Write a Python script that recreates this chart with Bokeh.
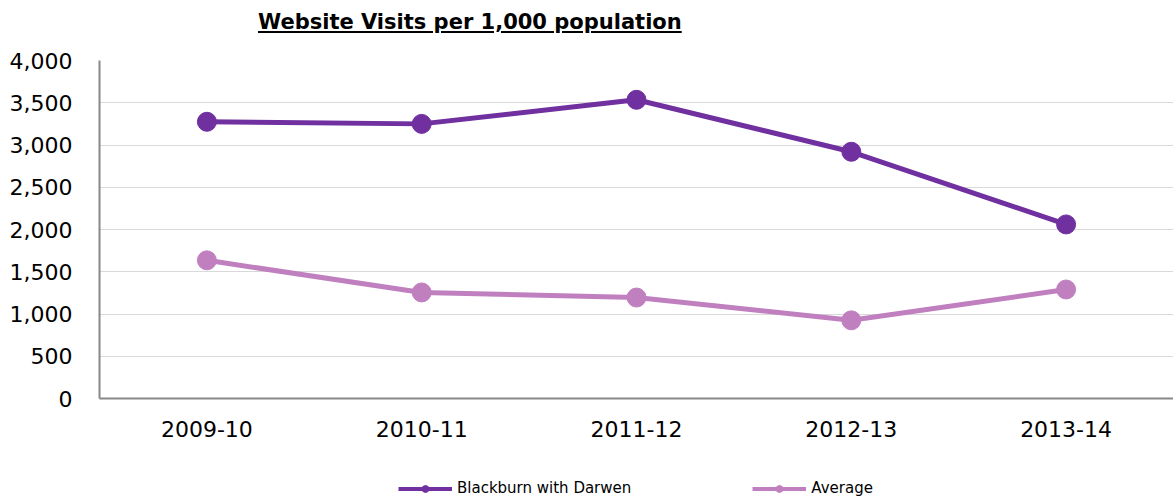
from bokeh.plotting import figure
from bokeh.models import (Div, Legend, LegendItem, NumeralTickFormatter, FixedTicker, Range1d,
                          ColumnDataSource)
from bokeh.layouts import column
from bokeh.embed import file_html
from bokeh.resources import INLINE

title_text = "Website Visits per 1,000 population"
years = ["2009-10", "2010-11", "2011-12", "2012-13", "2013-14"]
blackburn = [3275, 3250, 3535, 2920, 2060]
average = [1635, 1255, 1195, 925, 1290]
y_ticks = [0, 500, 1000, 1500, 2000, 2500, 3000, 3500, 4000]
series_names = ["Blackburn with Darwen", "Average"]

C_BWD = "#7030A0"
C_AVG = "#C080C0"
FONT = "DejaVu Sans"

div = Div(
    text=f"<b><u>{title_text}</u></b>",
    width=1173, height=38, margin=0,
    styles={"font-family": FONT, "font-size": "21px", "padding-left": "258px",
            "padding-top": "10px", "color": "#000000", "line-height": "24px"},
)

p = figure(
    x_range=years, y_range=Range1d(0, 4000),
    width=1173, height=410,
    output_backend="svg", toolbar_location=None,
    min_border_top=22, min_border_left=99, min_border_right=0, min_border_bottom=50,
)
p.outline_line_color = None
p.xgrid.grid_line_color = None
p.ygrid.grid_line_color = "#d9d9d9"
p.ygrid.grid_line_width = 1
p.yaxis.ticker = FixedTicker(ticks=y_ticks)
p.yaxis.formatter = NumeralTickFormatter(format="0,0")

for ax in (p.xaxis[0], p.yaxis[0]):
    ax.axis_line_color = "#888888"
    ax.axis_line_width = 2
    ax.major_tick_line_color = None
    ax.minor_tick_line_color = None
    ax.major_label_text_font = FONT
    ax.major_label_text_color = "#000000"
    ax.major_label_text_font_size = "22px"
p.yaxis.major_label_standoff = 21
p.xaxis.major_label_standoff = 16

src_b = ColumnDataSource(dict(x=years, y=blackburn))
src_a = ColumnDataSource(dict(x=years, y=average))
p.line("x", "y", source=src_b, line_width=5, line_color=C_BWD)
p.scatter("x", "y", source=src_b, size=19, fill_color=C_BWD, line_color=C_BWD)
p.line("x", "y", source=src_a, line_width=5, line_color=C_AVG)
p.scatter("x", "y", source=src_a, size=19, fill_color=C_AVG, line_color=C_AVG)

# separate strip for the legend (its frame is aligned with the main frame, starting at x=99)
lf = figure(
    width=1173, height=51, x_range=Range1d(0, 1), y_range=Range1d(0, 1),
    x_axis_type=None, y_axis_type=None,
    output_backend="svg", toolbar_location=None,
    min_border=0, min_border_left=0, min_border_right=0, min_border_top=0, min_border_bottom=0,
)
lf.outline_line_color = None
lf.grid.visible = False

# legend-only glyphs, placed outside the visible range of the strip
off = ColumnDataSource(dict(x=[-10, -9], y=[-10, -9]))
items = []
for name, col in zip(series_names, [C_BWD, C_AVG]):
    l = lf.line("x", "y", source=off, line_width=4, line_color=col)
    s = lf.scatter("x", "y", source=off, size=13, fill_color=col, line_color=col)
    items.append(LegendItem(label=name, renderers=[l, s]))

legend = Legend(
    items=items, orientation="horizontal", location=(299, 2),
    glyph_width=54, glyph_height=17, label_standoff=5, spacing=121,
    padding=0, margin=0, border_line_color=None, background_fill_alpha=0,
    label_text_font=FONT, label_text_font_size="15px", label_text_color="#000000",
)
lf.add_layout(legend, "center")

layout = column(div, p, lf, spacing=0)
open("out.html", "w").write(file_html(layout, INLINE))
